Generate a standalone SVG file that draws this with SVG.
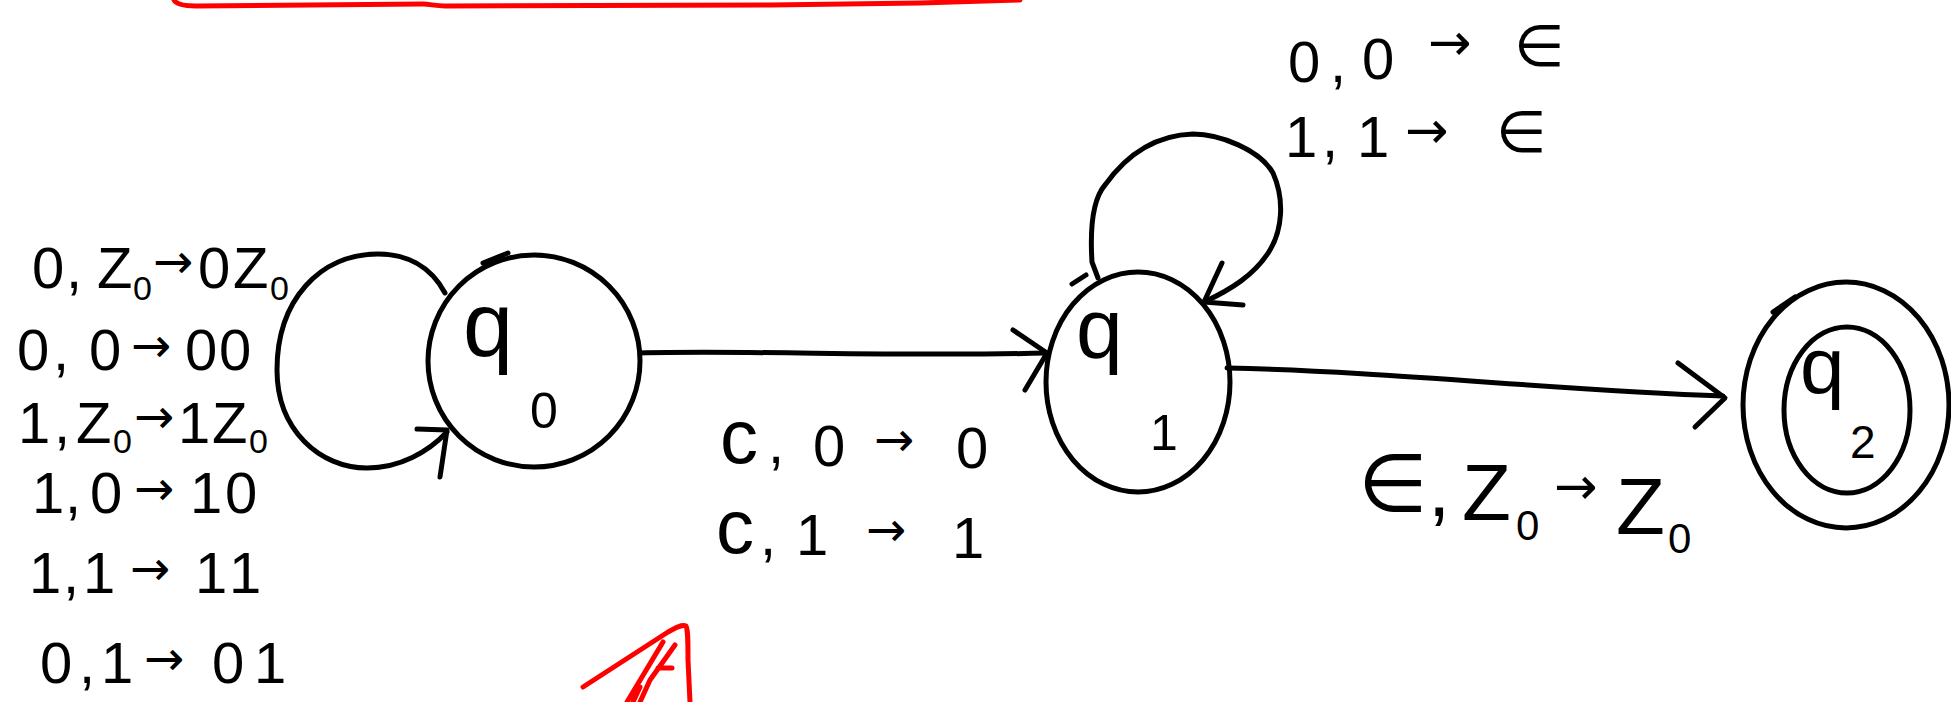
<svg xmlns="http://www.w3.org/2000/svg" width="1951" height="702" viewBox="0 0 1951 702">
<style>
.ink{fill:none;stroke:#000;stroke-width:5;stroke-linecap:round;stroke-linejoin:round}
.red{fill:none;stroke:#f00;stroke-width:5;stroke-linecap:round;stroke-linejoin:round}
text{font-family:"Liberation Sans","DejaVu Sans",sans-serif;fill:#000}
.lbl{font-size:58px}
.big{font-size:76px}
.sub{font-size:34px}
.arr{font-size:48px;font-family:"DejaVu Sans",sans-serif}
.eps{font-family:"DejaVu Sans",sans-serif}
</style>
<rect width="1951" height="702" fill="#fff"/>

<g id="annotations">
<path class="red" d="M174,0 C176,4 185,6 196,6 L423,4 C430,4 435,6 445,6 L770,5 L920,3 L1020,0"/>
<path class="red" d="M583,687 L668,632 C675,628 682,624 686,626 C688,630 688,640 688,660 L690,702"/>
<path class="red" d="M663,642 L627,702 M675,645 L650,680 L640,702 M658,668 L672,668 M640,687 L633,702"/>
</g>

<g id="q0">
<ellipse class="ink" cx="534" cy="361" rx="106" ry="106"/>
<path class="ink" d="M483,263 L508,253"/>
<text><tspan x="463" y="356" style="font-size:90px">q</tspan><tspan x="530" y="428" style="font-size:50px">0</tspan></text>
</g>

<g id="q1">
<ellipse class="ink" cx="1138" cy="382" rx="92" ry="110"/>
<path class="ink" d="M1072,284 L1086,275"/>
<text><tspan x="1076" y="358" style="font-size:84px">q</tspan><tspan x="1150" y="450" style="font-size:50px">1</tspan></text>
</g>

<g id="q2">
<ellipse class="ink" cx="1846" cy="405" rx="103" ry="123"/>
<ellipse class="ink" cx="1847" cy="410" rx="63" ry="83"/>
<path class="ink" d="M1773,312 L1795,297"/>
<text><tspan x="1800" y="393" style="font-size:80px">q</tspan><tspan x="1850" y="458" style="font-size:46px">2</tspan></text>
</g>

<g id="connectors">
<path class="ink" d="M445,293 C430,265 405,254 378,254 C320,254 277,300 277,370 C277,430 320,468 367,468 C400,468 428,452 447,432"/>
<polyline class="ink" points="417,429 447,430 440,477"/>
<path class="ink" d="M640,353 C750,350 900,357 1047,353"/>
<polyline class="ink" points="1013,330 1047,353 1025,390"/>
<path class="ink" d="M1098,278 L1092,262 C1090,230 1092,200 1105,185 C1130,150 1160,135 1193,134 C1220,134 1260,150 1273,173 C1285,200 1282,230 1270,250 C1255,275 1230,290 1204,302"/>
<polyline class="ink" points="1222,263 1204,302 1243,305"/>
<path class="ink" d="M1227,368 C1400,372 1550,390 1723,396"/>
<polyline class="ink" points="1678,363 1725,398 1695,427"/>
</g>

<g id="labels">
<text class="lbl"><tspan x="32" y="288">0</tspan><tspan x="66" y="288">,</tspan><tspan x="97" y="288">Z</tspan><tspan class="sub" x="133" y="300">0</tspan><tspan class="arr" x="153" y="278">→</tspan><tspan x="198" y="288">0</tspan><tspan x="233" y="288">Z</tspan><tspan class="sub" x="270" y="300">0</tspan></text>
<text class="lbl"><tspan x="17" y="370">0</tspan><tspan x="53" y="370">,</tspan><tspan x="89" y="370">0</tspan><tspan class="arr" x="131" y="362">→</tspan><tspan x="185" y="370">0</tspan><tspan x="219" y="370">0</tspan></text>
<text class="lbl"><tspan x="18" y="443">1</tspan><tspan x="54" y="443">,</tspan><tspan x="76" y="443">Z</tspan><tspan class="sub" x="113" y="453">0</tspan><tspan class="arr" x="134" y="433">→</tspan><tspan x="178" y="443">1</tspan><tspan x="212" y="443">Z</tspan><tspan class="sub" x="249" y="453">0</tspan></text>
<text class="lbl"><tspan x="32" y="513">1</tspan><tspan x="65" y="513">,</tspan><tspan x="90" y="513">0</tspan><tspan class="arr" x="134" y="505">→</tspan><tspan x="190" y="513">1</tspan><tspan x="225" y="513">0</tspan></text>
<text class="lbl"><tspan x="29" y="593">1</tspan><tspan x="63" y="593">,</tspan><tspan x="83" y="593">1</tspan><tspan class="arr" x="130" y="585">→</tspan><tspan x="195" y="593">1</tspan><tspan x="229" y="593">1</tspan></text>
<text class="lbl"><tspan x="40" y="683">0</tspan><tspan x="79" y="683">,</tspan><tspan x="101" y="683">1</tspan><tspan class="arr" x="144" y="675">→</tspan><tspan x="212" y="683">0</tspan><tspan x="254" y="683">1</tspan></text>

<text class="lbl"><tspan class="big" x="720" y="463">c</tspan><tspan x="768" y="463">,</tspan><tspan x="813" y="466">0</tspan><tspan class="arr" x="874" y="456">→</tspan><tspan x="956" y="468">0</tspan></text>
<text class="lbl"><tspan class="big" x="716" y="553">c</tspan><tspan x="760" y="555">,</tspan><tspan x="796" y="555">1</tspan><tspan class="arr" x="866" y="546">→</tspan><tspan x="952" y="558">1</tspan></text>

<text class="lbl"><tspan x="1288" y="82">0</tspan><tspan x="1330" y="82">,</tspan><tspan x="1362" y="79">0</tspan><tspan class="arr" x="1428" y="60" style="font-size:52px">→</tspan><tspan class="eps" x="1514" y="66">∈</tspan></text>
<text class="lbl"><tspan x="1285" y="157">1</tspan><tspan x="1322" y="157">,</tspan><tspan x="1357" y="157">1</tspan><tspan class="arr" x="1405" y="148" style="font-size:52px">→</tspan><tspan class="eps" x="1496" y="152">∈</tspan></text>

<text style="font-size:80px"><tspan class="eps" x="1358" y="511">∈</tspan><tspan x="1428" y="516">,</tspan><tspan x="1462" y="520">Z</tspan><tspan x="1516" y="540" style="font-size:42px">0</tspan><tspan class="arr" x="1554" y="504" style="font-size:52px">→</tspan><tspan x="1616" y="534">Z</tspan><tspan x="1668" y="553" style="font-size:42px">0</tspan></text>
</g>
</svg>
